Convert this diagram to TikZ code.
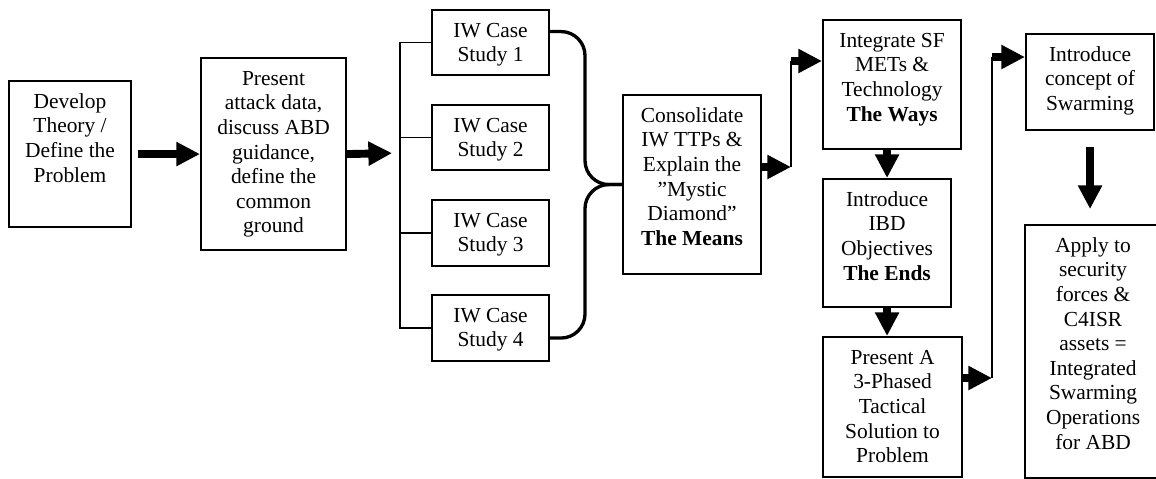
\documentclass[tikz,border=0pt]{standalone}
\usepackage{fontspec}
\setmainfont{Liberation Serif}
\usetikzlibrary{arrows.meta,positioning,calc}
\newdimen\px \px=0.02cm
\newcommand{\boxtext}[3]{\parbox[t][#2\px][t]{#1\px}{\centering\rule{0pt}{15.5pt}#3}}
\tikzstyle{stepnode} = [rectangle, draw, line width=1.2pt, inner sep=0pt,
    anchor=north west, font=\fontsize{12.2}{14}\selectfont]
\tikzstyle{bigarrow} = [draw, line width=4.5pt, -{Triangle[length=13.5pt,width=13pt]}]
\tikzstyle{joinline} = [draw, line width=1pt]
\tikzstyle{curlyline} = [draw, line width=1.9pt, rounded corners=0.48cm]

\begin{document}
\begin{tikzpicture}[x=0.02cm, y=-0.02cm]
    \useasboundingbox (0,0) rectangle (1156,478);
    % Place nodes
    \node [stepnode] (theoryBox)  at (8,80)   {\boxtext{122}{146}{Develop\\ Theory /\\ Define the\\ Problem}};
    \node [stepnode] (attackData) at (200,57) {\boxtext{145}{192}{Present\\ attack data,\\ discuss ABD\\ guidance,\\ define the\\ common\\ ground}};

    \node [stepnode] (caseStudy1) at (431,9)   {\boxtext{117}{65}{IW Case\\ Study 1}};
    \node [stepnode] (caseStudy2) at (431,104) {\boxtext{117}{65}{IW Case\\ Study 2}};
    \node [stepnode] (caseStudy3) at (431,199) {\boxtext{117}{66}{IW Case\\ Study 3}};
    \node [stepnode] (caseStudy4) at (431,294) {\boxtext{117}{66}{IW Case\\ Study 4}};

    \node [stepnode] (consolidate) at (622,94) {\boxtext{138}{179}{Consolidate\\ IW TTPs \&\\ Explain the\\ ”Mystic\\ Diamond”\\ \textbf{The Means}}};

    \node [stepnode] (integrateSF)   at (822,19)  {\boxtext{138}{129}{Integrate SF\\ METs \&\\ Technology\\ \textbf{The Ways}}};
    \node [stepnode] (ibdObjectives) at (822,178) {\boxtext{128}{128}{Introduce\\ IBD\\ Objectives\\ \textbf{The Ends}}};
    \node [stepnode] (tacticalSol)   at (822,336) {\boxtext{139}{140}{Present A\\ 3-Phased\\ Tactical\\ Solution to\\ Problem}};

    \node [stepnode] (swarmConcept) at (1025,33) {\boxtext{128}{96}{Introduce\\ concept of\\ Swarming}};
    \node [stepnode] (applySwarm)   at (1024,224) {\boxtext{136}{253}{Apply to\\ security\\ forces \&\\ C4ISR\\ assets =\\ Integrated\\ Swarming\\ Operations\\ for ABD}};

    % junctions
    \coordinate (spine) at (400,153);
    \coordinate (trunk) at ($(consolidate.west)+(-37,0)$);
    \coordinate (joinA) at (791,167);
    \coordinate (joinB) at (791,61);
    \coordinate (joinC) at (992,378);
    \coordinate (joinD) at (992,57);

    \path [bigarrow, shorten <=3.4pt] (theoryBox.east) -- (attackData.west);
    \path [bigarrow, shorten >=4.5pt] (attackData.east) -- (spine);

    \path [joinline] (caseStudy1.west) -| (spine) |- (caseStudy4.west);
    \path [joinline] (caseStudy2.west) -- (caseStudy2.west -| spine);
    \path [joinline] (caseStudy3.west) -- (caseStudy3.west -| spine);

    \path [curlyline] ($(caseStudy1.east)+(0,-11)$) -| (trunk) -- (consolidate.west);
    \path [curlyline] ($(caseStudy4.east)+(0,10)$) -| (trunk) -- (consolidate.west);

    \path [bigarrow] (consolidate.east |- joinA) -- (joinA);
    \path [joinline] (joinA) -- (joinB);
    \path [bigarrow] (joinB) -- (integrateSF.west |- joinB);

    \path [bigarrow] (ibdObjectives.north |- integrateSF.south) -- (ibdObjectives.north);
    \path [bigarrow] (ibdObjectives.south) -- (ibdObjectives.south |- tacticalSol.north);

    \path [bigarrow] (tacticalSol.east |- joinC) -- (joinC);
    \path [joinline] (joinC) -- (joinD);
    \path [bigarrow] (joinD) -- (swarmConcept.west |- joinD);

    \path [bigarrow, shorten <=9pt, shorten >=8.5pt] (swarmConcept.south) -- (applySwarm.north -| swarmConcept.south);
\end{tikzpicture}
\end{document}
